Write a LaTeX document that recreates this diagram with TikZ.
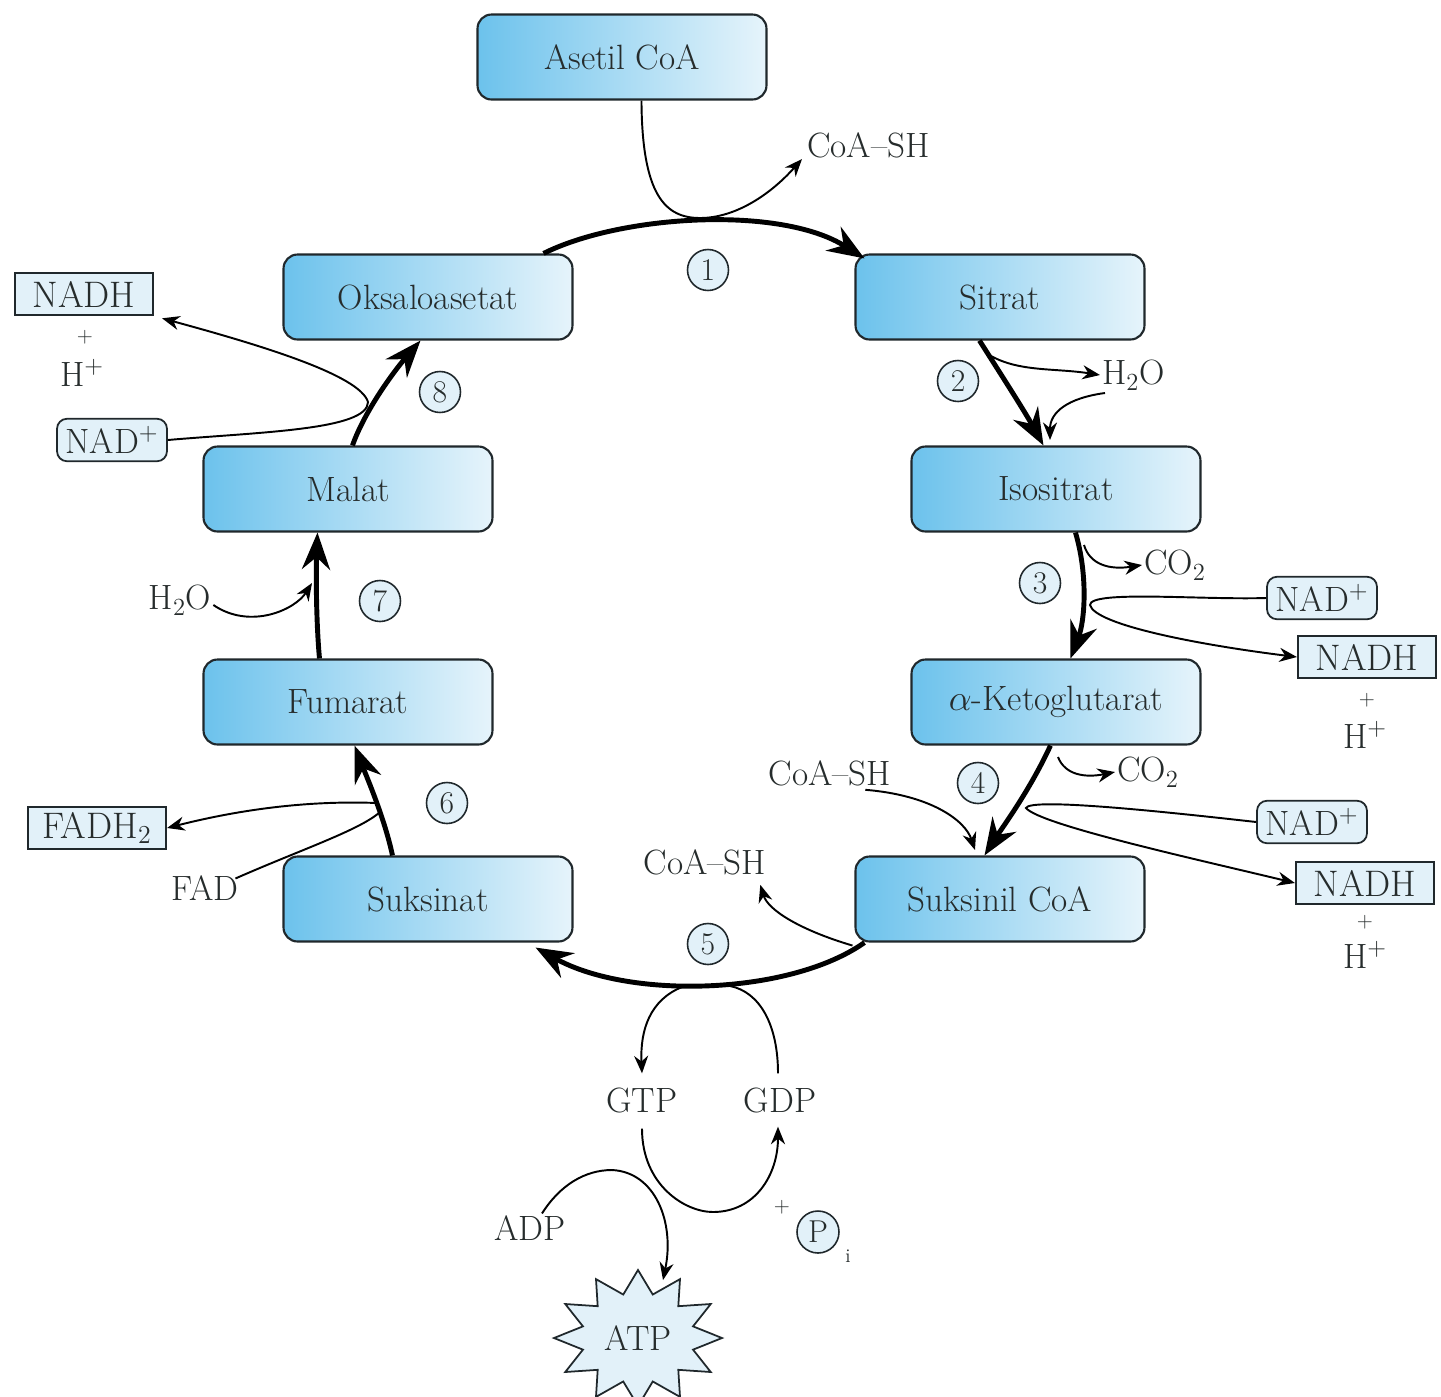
\documentclass[tikz,border=0pt]{standalone}
\usetikzlibrary{shapes.geometric,arrows.meta,calc}
\definecolor{boxdark}{RGB}{108,194,236}
\definecolor{boxlight}{RGB}{230,244,251}
\definecolor{smallfill}{RGB}{226,241,249}
\definecolor{txt}{RGB}{38,44,44}
\definecolor{edge}{RGB}{32,40,44}
\begin{document}
\begin{tikzpicture}[x=0.02cm,y=-0.02cm,
 mbox/.style={draw=edge,line width=1.2pt,rounded corners=0.28cm,left color=boxdark,right color=boxlight,minimum width=5.78cm,minimum height=1.7cm,font=\fontsize{20}{24}\selectfont,text=txt},
 numc/.style={circle,draw=edge,line width=0.9pt,fill=smallfill,minimum size=0.82cm,inner sep=0pt,font=\fontsize{18}{20}\selectfont,text=txt},
 main/.style={line width=2.8pt,-{Stealth[length=21pt,width=16pt,inset=7pt]}},
 side/.style={line width=1.1pt,-{Stealth[length=10pt,width=8pt]}},
 sideplain/.style={line width=1.1pt},
 lbl/.style={font=\fontsize{20}{24}\selectfont,text=txt,inner sep=1pt},
 plus/.style={font=\fontsize{12}{14}\selectfont,text=txt,inner sep=0pt},
 nadbox/.style={draw=edge,line width=1pt,fill=smallfill,rounded corners=0.2cm,minimum width=2.2cm,minimum height=0.85cm,inner sep=1pt,font=\fontsize{20}{24}\selectfont,text=txt},
 nadhbox/.style={draw=edge,line width=1.2pt,fill=smallfill,minimum width=2.76cm,minimum height=0.85cm,inner sep=1pt,font=\fontsize{21}{24}\selectfont,text=txt},
]
\useasboundingbox (0,0) rectangle (1441,1397);
\fill[white] (0,0) rectangle (1441,1397);

% main boxes
\node[mbox] (aco) at (622,57) {Asetil CoA};
\node[mbox] (oks) at (428,297) {Oksaloasetat};
\node[mbox] (sit) at (1000,297) {Sitrat};
\node[mbox] (mal) at (348,489) {Malat};
\node[mbox] (iso) at (1056,489) {Isositrat};
\node[mbox] (fum) at (348,702) {Fumarat};
\node[mbox] (akg) at (1056,702) {\(\alpha\)-Ketoglutarat};
\node[mbox] (suk) at (428,899) {Suksinat};
\node[mbox] (sco) at (1000,899) {Suksinil CoA};

% step numbers
\node[numc] (n1) at (708,270) {1};
\node[numc] (n2) at (958,381) {2};
\node[numc] (n3) at (1040,583) {3};
\node[numc] (n4) at (978,783) {4};
\node[numc] (n5) at (708,944) {5};
\node[numc] (n6) at (447,803) {6};
\node[numc] (n7) at (380,601) {7};
\node[numc] (n8) at (440,392) {8};

% main cycle
\draw[main] ($(oks.north east)+(-30,0)$) .. controls (620,215) and (780,205) .. ($(sit.north west)+(10,5)$);
\draw[main] ($(sit.south west)+(125,0)$) .. controls (1002,376) and (1025,412) .. ($(iso.north west)+(133,0)$);
\draw[main] ($(iso.south west)+(165,0)$) .. controls (1088,575) and (1085,620) .. ($(akg.north west)+(160,0)$);
\draw[main] ($(akg.south west)+(140,0)$) .. controls (1030,790) and (1002,828) .. ($(sco.north west)+(130,0)$);
\draw[main] ($(sco.south west)+(10,0)$) .. controls (790,995) and (630,1000) .. ($(suk.south east)+(-38,5)$);
\draw[main] ($(suk.north west)+(110,0)$) .. controls (385,820) and (368,780) .. ($(fum.south west)+(152,0)$);
\draw[main] ($(fum.north west)+(117,0)$) .. controls (316,620) and (316,570) .. ($(mal.south west)+(115,0)$);
\draw[main] ($(mal.north west)+(150,0)$) .. controls (365,410) and (395,370) .. ($(oks.south west)+(138,0)$);

% step 1
\node[lbl,anchor=west] (coash1) at (805,145) {CoA--SH};
\draw[side] ($(aco.south west)+(165,0)$) .. controls (642,195) and (665,218) .. (700,218) .. controls (735,218) and (770,195) .. ($(coash1.west)+(-3,14)$);

% step 2
\node[lbl,anchor=west] (h2oa) at (1100,375) {H\textsubscript{2}O};
\coordinate (b2) at (991,356);
\draw[side] (b2) .. controls (1020,372) and (1055,368) .. (h2oa.west);
\draw[side] ($(h2oa.west)+(5,18)$) .. controls (1068,398) and (1050,412) .. (1050,440);

% step 3
\node[lbl,anchor=west] (co2a) at (1142,565) {CO\textsubscript{2}};
\node[nadbox] (nad3) at (1322,598) {NAD\textsuperscript{+}};
\node[nadhbox] (nadh3) at (1367,657) {NADH};
\node[plus] (p3) at (1367,700) {+};
\node[lbl] (h3) at (1365,735) {H\textsuperscript{+}};
\coordinate (b3) at (1084,545);
\draw[side] (b3) .. controls (1090,565) and (1110,570) .. (co2a.west);
\draw[side] (nad3.west) .. controls (1200,600) and (1090,590) .. (1090,605) .. controls (1095,625) and (1200,645) .. (nadh3.west);

% step 4
\node[lbl,anchor=west] (co2b) at (1115,772) {CO\textsubscript{2}};
\node[nadbox] (nad4) at (1312,822) {NAD\textsuperscript{+}};
\node[nadhbox] (nadh4) at (1365,883) {NADH};
\node[plus] (p4) at (1365,922) {+};
\node[lbl] (h4) at (1365,955) {H\textsuperscript{+}};
\node[lbl] (coash2) at (830,773) {CoA--SH};
\coordinate (b4) at (1058,757);
\draw[side] (b4) .. controls (1065,775) and (1085,778) .. (co2b.west);
\draw[side] (nad4.west) .. controls (1150,810) and (1030,798) .. (1026,808) .. controls (1040,825) and (1200,860) .. (nadh4.west);
\draw[side] ($(coash2.south east)+(-28,2)$) .. controls (930,795) and (965,820) .. (975,850);

% step 5
\node[lbl] (coash3) at (705,862) {CoA--SH};
\draw[side] ($(sco.south west)+(-2,3)$) .. controls (800,930) and (768,910) .. ($(coash3.south east)+(-8,8)$);
\node[lbl] (gtp) at (642,1100) {GTP};
\node[lbl] (gdp) at (780,1100) {GDP};
\draw[side] (682,987) .. controls (650,1000) and (640,1030) .. ($(gtp.north)+(0,-12)$);
\draw[sideplain] ($(gdp.north)+(-2,-12)$) .. controls (778,1025) and (760,992) .. (730,986);
\draw[side] ($(gtp.south)+(0,14)$) .. controls (642,1185) and (685,1212) .. (713,1212) .. controls (755,1212) and (778,1175) .. ($(gdp.south)+(-2,12)$);
\node[lbl] (adp) at (530,1228) {ADP};

% ATP star
\draw[draw=edge,line width=1pt,fill=smallfill]
  plot[samples at={0,15,...,345}] ({638+(mod(\x,30)==0 ? 84 : 57)*cos(\x)},{1338-(mod(\x,30)==0 ? 68 : 45)*sin(\x)}) -- cycle;
\node[lbl] (atp) at (638,1338) {ATP};
\draw[side] ($(adp.north)+(12,0)$) .. controls (560,1185) and (585,1170) .. (612,1170) .. controls (655,1172) and (675,1222) .. ($(atp.center)+(25,-58)$);
\node[plus] (p5) at (782,1207) {+};
\node[circle,draw=edge,line width=0.9pt,fill=smallfill,minimum size=0.84cm,inner sep=0pt,font=\fontsize{18}{20}\selectfont,text=txt] (pi) at (818,1232) {P};
\node[font=\fontsize{11}{12}\selectfont,text=txt,inner sep=0pt] (pisub) at (848,1256) {i};

% step 6
\node[nadhbox] (fadh) at (97,828) {FADH\textsubscript{2}};
\node[lbl] (fad) at (205,888) {FAD};
\draw[side] (377,803) .. controls (300,800) and (230,812) .. (fadh.east);
\draw[sideplain] ($(fad.north east)+(-5,5)$) .. controls (300,850) and (360,830) .. (380,812);

% step 7
\node[lbl] (h2ob) at (180,600) {H\textsubscript{2}O};
\draw[side] ($(h2ob.east)+(0,5)$) .. controls (250,630) and (295,610) .. (312,583);

% step 8
\node[nadhbox] (nadh8) at (84,294) {NADH};
\node[plus] (p8) at (85,337) {+};
\node[lbl] (h8) at (82,373) {H\textsuperscript{+}};
\node[nadbox] (nad8) at (112,440) {NAD\textsuperscript{+}};
\draw[side] (nad8.east) .. controls (260,432) and (368,430) .. (368,402) .. controls (360,375) and (260,345) .. ($(nadh8.south east)+(8,2)$);
\end{tikzpicture}
\end{document}
